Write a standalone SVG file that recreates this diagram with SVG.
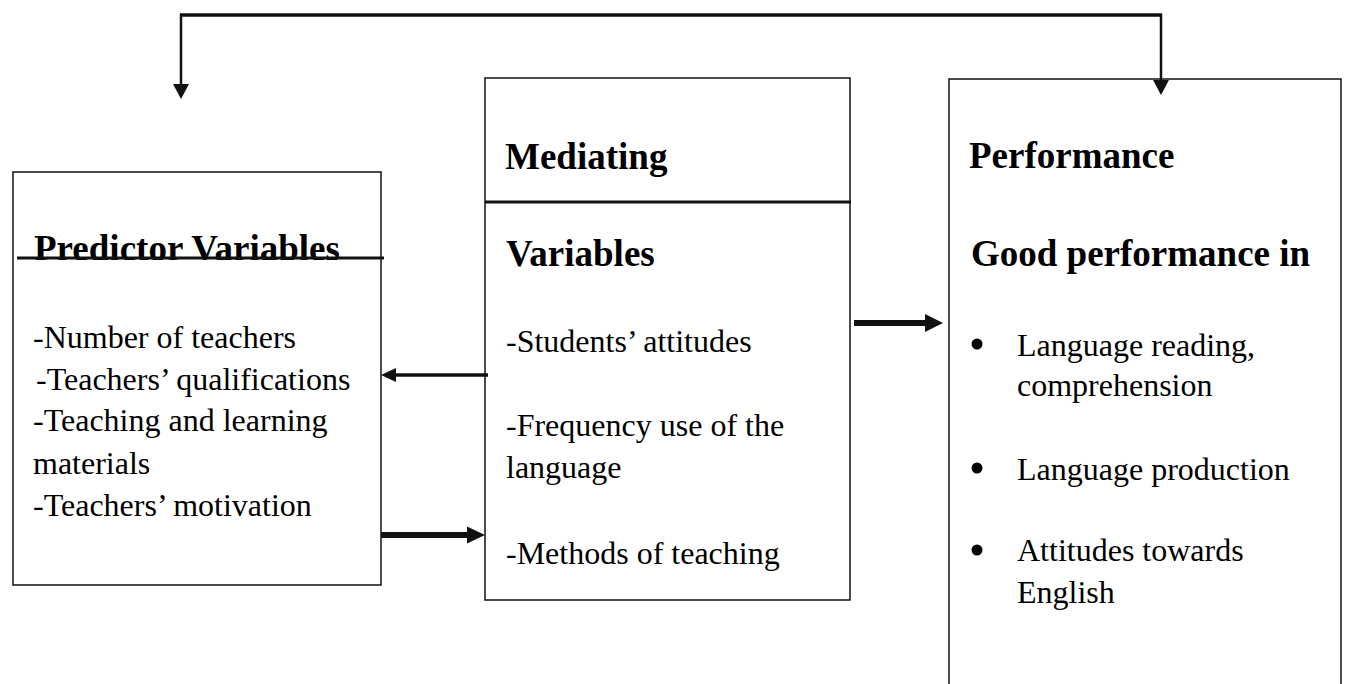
<svg xmlns="http://www.w3.org/2000/svg" width="1348" height="684" viewBox="0 0 1348 684">
<style>
.box{fill:#fff;stroke:#111;stroke-width:1.5}
.h{font-family:"Liberation Serif","Times New Roman",serif;font-weight:bold;font-size:37px;fill:#000}
.t{font-family:"Liberation Serif","Times New Roman",serif;font-size:32px;fill:#000}
.ln{stroke:#111;fill:none}
.ah{fill:#111}
.bul{fill:#000}
</style>
<defs>
<clipPath id="clipPred"><rect x="13" y="172" width="370" height="88"/></clipPath>
</defs>
<rect width="1348" height="684" fill="#fff"/>
<g id="predictor">
<rect class="box" x="13" y="172" width="368" height="413"/>
<text class="h" x="34" y="261" clip-path="url(#clipPred)">Predictor Variables</text>
<line class="ln" x1="17" y1="258" x2="384" y2="258" stroke-width="3"/>
<text class="t" x="33" y="348">-Number of teachers</text>
<text class="t" x="36" y="390">-Teachers’ qualifications</text>
<text class="t" x="33" y="431">-Teaching and learning</text>
<text class="t" x="33" y="474">materials</text>
<text class="t" x="33" y="516">-Teachers’ motivation</text>
</g>
<g id="mediating">
<rect class="box" x="485" y="78" width="365" height="522"/>
<text class="h" x="505" y="169">Mediating</text>
<line class="ln" x1="485" y1="202" x2="851" y2="202" stroke-width="3"/>
<text class="h" x="506" y="266">Variables</text>
<text class="t" x="506" y="352">-Students’ attitudes</text>
<text class="t" x="506" y="436">-Frequency use of the</text>
<text class="t" x="506" y="478">language</text>
<text class="t" x="506" y="564">-Methods of teaching</text>
</g>
<g id="performance">
<rect class="box" x="949" y="79" width="392" height="640"/>
<text class="h" x="969" y="168">Performance</text>
<text class="h" x="971" y="266">Good performance in</text>
<circle class="bul" cx="977" cy="344" r="5.5"/>
<text class="t" x="1017" y="356">Language reading,</text>
<text class="t" x="1017" y="396">comprehension</text>
<circle class="bul" cx="977" cy="468" r="5.5"/>
<text class="t" x="1017" y="480">Language production</text>
<circle class="bul" cx="977" cy="550" r="5.5"/>
<text class="t" x="1017" y="561">Attitudes towards</text>
<text class="t" x="1017" y="603">English</text>
</g>
<g id="connectors">
<line class="ln" x1="180" y1="15" x2="1162" y2="15" stroke-width="3.5"/>
<line class="ln" x1="181" y1="14" x2="181" y2="86" stroke-width="2.5"/>
<polygon class="ah" points="173,84 189,84 181,99"/>
<line class="ln" x1="1161" y1="14" x2="1161" y2="82" stroke-width="2.5"/>
<polygon class="ah" points="1153,80 1169,80 1161,95"/>
<line class="ln" x1="488" y1="375" x2="394" y2="375" stroke-width="3.5"/>
<polygon class="ah" points="381,375 396,368 396,382"/>
<line class="ln" x1="381" y1="535" x2="469" y2="535" stroke-width="6"/>
<polygon class="ah" points="485,535 467,526.5 467,543.5"/>
<line class="ln" x1="854" y1="323" x2="927" y2="323" stroke-width="6"/>
<polygon class="ah" points="943,323 925,314 925,332"/>
</g>
</svg>
